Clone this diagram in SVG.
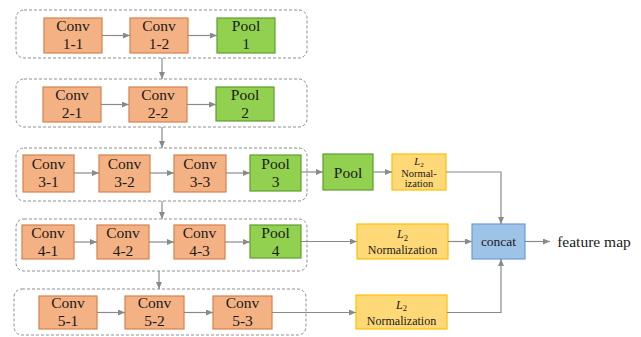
<svg xmlns="http://www.w3.org/2000/svg" width="641" height="337" viewBox="0 0 641 337" font-family="Liberation Serif, DejaVu Serif, serif">
  <defs>
    <marker id="arrow" markerWidth="8" markerHeight="6" refX="7" refY="3" orient="auto" markerUnits="userSpaceOnUse">
      <path d="M0,0 L7,3 L0,6 z" fill="#8a8a8a"/>
    </marker>
  </defs>
  <style>
    .stage { fill: none; stroke: #8f8f8f; stroke-width: 1; stroke-dasharray: 3 2; }
    .conv { fill: #F4B183; stroke: #D5804F; stroke-width: 1.2; }
    .pool { fill: #92D050; stroke: #5E9E2E; stroke-width: 1.2; }
    .norm { fill: #FFD877; stroke: #FFC000; stroke-width: 1.2; }
    .cat { fill: #9DC3E6; stroke: #6A9FD8; stroke-width: 1.2; }
    text { font-family: 'Liberation Serif', 'DejaVu Serif', serif; fill: #1a1a1a; text-anchor: middle; }
    .lbl { font-size: 15.5px; }
    .n12 { font-size: 12px; }
    .n10 { font-size: 10.5px; }
    .ital { font-style: italic; }
    .edge-a { fill: none; stroke: #8a8a8a; stroke-width: 1.2; marker-end: url(#arrow); }
  </style>

  <!-- stage containers -->
  <g id="stages">
    <rect class="stage" x="16" y="10" width="291" height="48" rx="8"/>
    <rect class="stage" x="16" y="79" width="291" height="48" rx="8"/>
    <rect class="stage" x="16" y="148" width="291" height="53" rx="8"/>
    <rect class="stage" x="16" y="219" width="291" height="52" rx="8"/>
    <rect class="stage" x="14" y="289" width="292" height="46" rx="8"/>
  </g>

  <!-- stage 1 -->
  <g id="conv1-1"><rect class="conv" x="44" y="18" width="58" height="35"/><text class="lbl" x="73" y="31">Conv</text><text class="lbl" x="73" y="49">1-1</text></g>
  <g id="conv1-2"><rect class="conv" x="130" y="18" width="58" height="35"/><text class="lbl" x="159" y="31">Conv</text><text class="lbl" x="159" y="49">1-2</text></g>
  <g id="pool1"><rect class="pool" x="217" y="18" width="58" height="35"/><text class="lbl" x="246" y="31">Pool</text><text class="lbl" x="246" y="49">1</text></g>

  <!-- stage 2 -->
  <g id="conv2-1"><rect class="conv" x="43" y="87" width="58" height="35"/><text class="lbl" x="72" y="100">Conv</text><text class="lbl" x="72" y="118">2-1</text></g>
  <g id="conv2-2"><rect class="conv" x="129" y="87" width="58" height="35"/><text class="lbl" x="158" y="100">Conv</text><text class="lbl" x="158" y="118">2-2</text></g>
  <g id="pool2"><rect class="pool" x="216" y="87" width="58" height="34"/><text class="lbl" x="245" y="100">Pool</text><text class="lbl" x="245" y="118">2</text></g>

  <!-- stage 3 -->
  <g id="conv3-1"><rect class="conv" x="23" y="155" width="51" height="37"/><text class="lbl" x="48.5" y="169">Conv</text><text class="lbl" x="48.5" y="187">3-1</text></g>
  <g id="conv3-2"><rect class="conv" x="99" y="155" width="51" height="37"/><text class="lbl" x="124.5" y="169">Conv</text><text class="lbl" x="124.5" y="187">3-2</text></g>
  <g id="conv3-3"><rect class="conv" x="174" y="155" width="52" height="37"/><text class="lbl" x="200" y="169">Conv</text><text class="lbl" x="200" y="187">3-3</text></g>
  <g id="pool3"><rect class="pool" x="250" y="155" width="51" height="36"/><text class="lbl" x="275.5" y="169">Pool</text><text class="lbl" x="275.5" y="187">3</text></g>

  <!-- stage 4 -->
  <g id="conv4-1"><rect class="conv" x="22" y="225" width="52" height="34"/><text class="lbl" x="48" y="238">Conv</text><text class="lbl" x="48" y="256">4-1</text></g>
  <g id="conv4-2"><rect class="conv" x="97" y="225" width="52" height="34"/><text class="lbl" x="123" y="238">Conv</text><text class="lbl" x="123" y="256">4-2</text></g>
  <g id="conv4-3"><rect class="conv" x="174" y="225" width="51" height="34"/><text class="lbl" x="199.5" y="238">Conv</text><text class="lbl" x="199.5" y="256">4-3</text></g>
  <g id="pool4"><rect class="pool" x="250" y="225" width="51" height="33"/><text class="lbl" x="275.5" y="238">Pool</text><text class="lbl" x="275.5" y="256">4</text></g>

  <!-- stage 5 -->
  <g id="conv5-1"><rect class="conv" x="39" y="296" width="58" height="33"/><text class="lbl" x="68" y="308">Conv</text><text class="lbl" x="68" y="326">5-1</text></g>
  <g id="conv5-2"><rect class="conv" x="125" y="296" width="59" height="33"/><text class="lbl" x="154.5" y="308">Conv</text><text class="lbl" x="154.5" y="326">5-2</text></g>
  <g id="conv5-3"><rect class="conv" x="213" y="296" width="59" height="33"/><text class="lbl" x="242.5" y="308">Conv</text><text class="lbl" x="242.5" y="326">5-3</text></g>

  <!-- feature fusion branch -->
  <g id="pool-extra"><rect class="pool" x="323" y="154" width="50" height="36"/><text class="lbl" x="348" y="178">Pool</text></g>
  <g id="l2norm-3"><rect class="norm" x="392" y="154" width="54" height="36"/>
    <text class="n10 ital" x="419" y="165">L<tspan font-size="7" dy="2" font-style="normal">2</tspan></text>
    <text class="n10" x="419" y="176.5">Normal-</text>
    <text class="n10" x="419" y="187">ization</text>
  </g>
  <g id="l2norm-4"><rect class="norm" x="357" y="224" width="91" height="35"/>
    <text class="n12 ital" x="402.5" y="238">L<tspan font-size="8.5" dy="2.5" font-style="normal">2</tspan></text>
    <text class="n12" x="402.5" y="254">Normalization</text>
  </g>
  <g id="l2norm-5"><rect class="norm" x="356" y="295" width="91" height="34"/>
    <text class="n12 ital" x="401.5" y="308.5">L<tspan font-size="8.5" dy="2.5" font-style="normal">2</tspan></text>
    <text class="n12" x="401.5" y="324.5">Normalization</text>
  </g>
  <g id="concat"><rect class="cat" x="472" y="224" width="53" height="35"/><text x="498.5" y="246" font-size="13.5">concat</text></g>
  <g id="feature-map"><text x="594" y="247" font-size="15.5">feature map</text></g>

  <!-- connectors -->
  <g id="connectors">
    <line class="edge-a" x1="102" y1="35.5" x2="130" y2="35.5"/>
    <line class="edge-a" x1="188" y1="35.5" x2="217" y2="35.5"/>
    <line class="edge-a" x1="101" y1="104.5" x2="129" y2="104.5"/>
    <line class="edge-a" x1="187" y1="104.5" x2="216" y2="104.5"/>
    <line class="edge-a" x1="74" y1="173" x2="99" y2="173"/>
    <line class="edge-a" x1="150" y1="173" x2="174" y2="173"/>
    <line class="edge-a" x1="226" y1="173" x2="250" y2="173"/>
    <line class="edge-a" x1="74" y1="242" x2="97" y2="242"/>
    <line class="edge-a" x1="149" y1="242" x2="174" y2="242"/>
    <line class="edge-a" x1="225" y1="242" x2="250" y2="242"/>
    <line class="edge-a" x1="97" y1="312.5" x2="125" y2="312.5"/>
    <line class="edge-a" x1="184" y1="312.5" x2="213" y2="312.5"/>

    <line class="edge-a" x1="162" y1="58" x2="162" y2="79"/>
    <line class="edge-a" x1="162" y1="127" x2="162" y2="148"/>
    <line class="edge-a" x1="162" y1="201" x2="162" y2="219"/>
    <line class="edge-a" x1="159" y1="271" x2="159" y2="289"/>

    <line class="edge-a" x1="301" y1="172" x2="323" y2="172"/>
    <line class="edge-a" x1="373" y1="172" x2="392" y2="172"/>
    <polyline class="edge-a" points="446,172 501,172 501,224"/>
    <line class="edge-a" x1="301" y1="241.5" x2="357" y2="241.5"/>
    <line class="edge-a" x1="448" y1="241.5" x2="472" y2="241.5"/>
    <line class="edge-a" x1="272" y1="312.5" x2="356" y2="312.5"/>
    <polyline class="edge-a" points="447,312.5 501,312.5 501,259"/>
    <line class="edge-a" x1="525" y1="241.5" x2="550" y2="241.5"/>
  </g>
</svg>
